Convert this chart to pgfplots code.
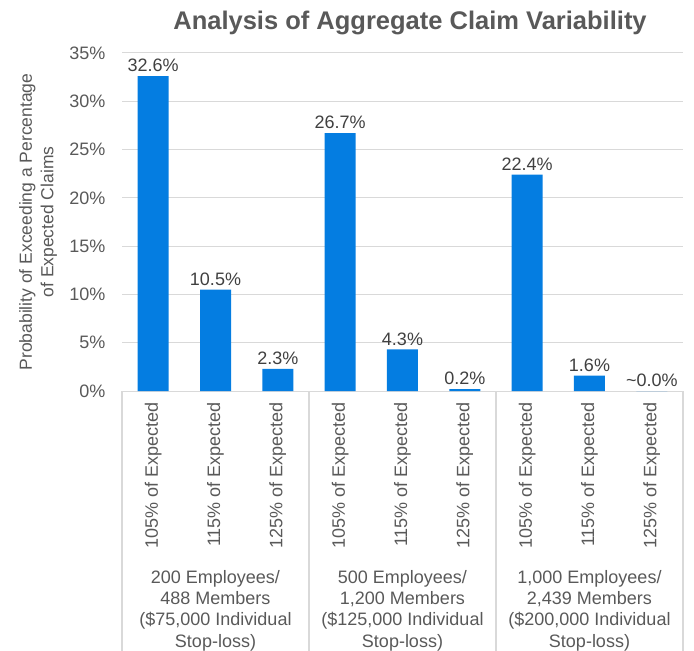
\documentclass[border=0pt]{standalone}
\usepackage{pgfplots}
\pgfplotsset{compat=1.18}
\usepackage{pgfplotstable}
\usepackage{fontspec}
\setmainfont{Liberation Sans}
\definecolor{barblue}{RGB}{4,125,225}
\definecolor{txtgray}{RGB}{89,89,89}
\definecolor{lblgray}{RGB}{64,64,64}
\definecolor{gridgray}{RGB}{217,217,217}
\pgfplotstableread{
x y lab
0 32.6 32.6\%
1 10.5 10.5\%
2 2.3 2.3\%
3 26.7 26.7\%
4 4.3 4.3\%
5 0.2 0.2\%
6 22.4 22.4\%
7 1.6 1.6\%
8 0.0 \textasciitilde0.0\%
}\datatable
\begin{document}
\begin{tikzpicture}
\begin{axis}[
  at={(122pt,260pt)}, anchor=south west,
  scale only axis, width=561pt, height=338pt,
  xmin=-0.5, xmax=8.5, ymin=0, ymax=35,
  axis line style={draw=none},
  major tick length=0pt,
  ymajorgrids, grid style={color=gridgray, line width=1pt},
  ytick={0,5,10,15,20,25,30,35},
  yticklabels={0\%,5\%,10\%,15\%,20\%,25\%,30\%,35\%},
  yticklabel style={font=\fontsize{18}{21}\selectfont, text=txtgray, anchor=east, xshift=-13pt},
  xtick={0,...,8},
  xticklabels={105\% of Expected,115\% of Expected,125\% of Expected,105\% of Expected,115\% of Expected,125\% of Expected,105\% of Expected,115\% of Expected,125\% of Expected},
  xticklabel style={font=\fontsize{18}{21}\selectfont, text=txtgray, rotate=90, anchor=east, inner sep=0pt, xshift=-11pt},
  /pgf/number format/assume math mode=true,
  clip=false,
]
\addplot[ybar, bar width=31pt, fill=barblue, draw=none,
  nodes near coords, point meta=explicit symbolic,
  every node near coord/.append style={font=\fontsize{18}{21}\selectfont, text=lblgray, inner sep=4pt}]
  table[x=x, y=y, meta=lab] {\datatable};
\foreach \s in {-0.5,2.5,5.5,8.5} {
  \edef\temp{\noexpand\draw[gridgray, line width=1.2pt] (axis cs:\s,0) -- ([yshift=-262pt]axis cs:\s,0);}
  \temp
}
\node[anchor=north, align=center, inner sep=0pt, text=txtgray, font=\fontsize{18}{21.3}\selectfont] at ([yshift=-179pt]axis cs:1,0) {200 Employees/\\488 Members\\(\$75,000 Individual\\Stop-loss)};
\node[anchor=north, align=center, inner sep=0pt, text=txtgray, font=\fontsize{18}{21.3}\selectfont] at ([yshift=-179pt]axis cs:4,0) {500 Employees/\\1,200 Members\\(\$125,000 Individual\\Stop-loss)};
\node[anchor=north, align=center, inner sep=0pt, text=txtgray, font=\fontsize{18}{21.3}\selectfont] at ([yshift=-179pt]axis cs:7,0) {1,000 Employees/\\2,439 Members\\(\$200,000 Individual\\Stop-loss)};
\end{axis}
\node[anchor=base, text=txtgray, font=\fontsize{25.5}{30}\selectfont\bfseries] at (410pt,621pt) {Analysis of Aggregate Claim Variability};
\node[rotate=90, align=center, text=txtgray, font=\fontsize{17.5}{21.5}\selectfont] at (38pt,429pt) {Probability of Exceeding a Percentage\\of Expected Claims};
\pgfresetboundingbox
\useasboundingbox (0,0) rectangle (694pt,651pt);
\end{tikzpicture}
\end{document}
